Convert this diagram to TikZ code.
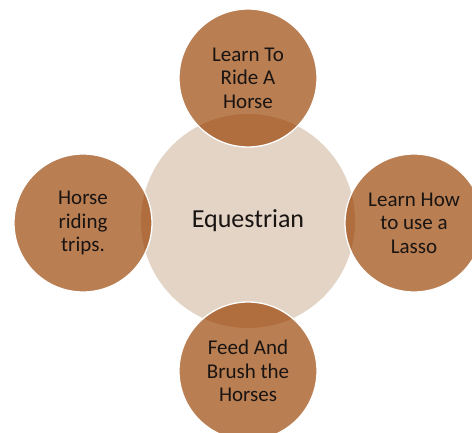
\documentclass[tikz,border=0pt]{standalone}
\usepackage{fontspec}
\setmainfont{Carlito}
\definecolor{hubfill}{RGB}{227,212,198}
\definecolor{spokefill}{RGB}{185,126,82}
\definecolor{overlapfill}{RGB}{176,109,62}
\definecolor{labeltext}{RGB}{25,20,18}
\tikzset{
  hubcircle/.style={circle, fill=hubfill, minimum size=214pt, inner sep=0pt,
    text=labeltext, font=\fontsize{26}{30}\selectfont},
  spokecircle/.style={circle, fill=spokefill, draw=white, line width=1.3pt,
    minimum size=138pt, inner sep=0pt, align=center, text=labeltext,
    font=\fontsize{21}{23.5}\selectfont,
    path picture={\fill[overlapfill] (hub.center) circle (107pt);}},
}
\begin{document}
\begin{tikzpicture}[x=1pt,y=-1pt]
  \clip (0,0) rectangle (472,432);
  \fill[white] (0,0) rectangle (472,432);
  % central topic
  \node[hubcircle] (hub) at (248,221) {Equestrian};
  % surrounding activities
  \node[spokecircle] (top)    at (248,78)  {Learn To\\Ride A\\Horse};
  \node[spokecircle] (left)   at (83,223)  {Horse\\riding\\trips.};
  \node[spokecircle] (right)  at (414,223) {Learn How\\to use a\\Lasso};
  \node[spokecircle] (bottom) at (248,371) {Feed And\\Brush the\\Horses};
\end{tikzpicture}
\end{document}
